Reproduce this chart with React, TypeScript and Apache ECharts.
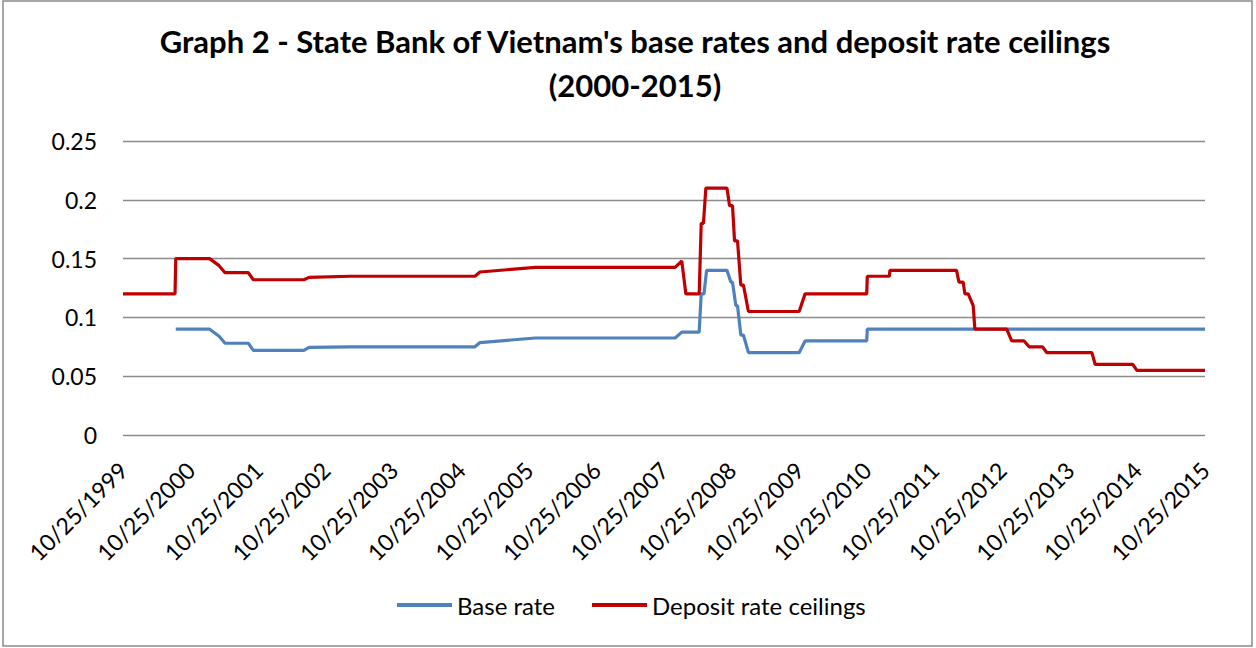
import React, { useEffect, useRef } from "react";
import * as echarts from "echarts";

const START = "1999-10-25";
const tickYears = [1999, 2000, 2001, 2002, 2003, 2004, 2005, 2006, 2007, 2008, 2009, 2010, 2011, 2012, 2013, 2014, 2015];
const yTicks = [0, 0.05, 0.1, 0.15, 0.2, 0.25];

const baseDates = [
  "2000-08-05", "2001-02-04", "2001-03-27", "2001-04-28", "2001-09-01", "2001-09-28",
  "2002-06-28", "2002-07-26", "2003-03-04", "2005-01-07", "2005-02-03", "2005-11-29",
  "2007-12-24", "2008-01-29", "2008-05-02", "2008-05-13", "2008-05-28", "2008-06-11",
  "2008-09-29", "2008-10-20", "2008-10-29", "2008-11-16", "2008-11-25", "2008-12-13",
  "2008-12-27", "2009-01-23", "2009-10-24", "2009-11-25", "2010-10-24", "2010-10-27",
  "2015-10-25",
];
const baseValues = [
  0.09, 0.09, 0.084, 0.078, 0.078, 0.072,
  0.072, 0.0745, 0.075, 0.075, 0.0786, 0.0825,
  0.0825, 0.0875, 0.0875, 0.12, 0.12, 0.14,
  0.14, 0.13, 0.13, 0.11, 0.11, 0.085,
  0.085, 0.07, 0.07, 0.08, 0.08, 0.09,
  0.09,
];

const depositDates = [
  "1999-10-25", "2000-08-01", "2000-08-05", "2001-02-04", "2001-03-27", "2001-04-28",
  "2001-09-01", "2001-09-28", "2002-06-28", "2002-07-26", "2003-03-04", "2005-01-07",
  "2005-02-03", "2005-11-29", "2007-12-24", "2008-01-29", "2008-02-20", "2008-05-02",
  "2008-05-13", "2008-05-25", "2008-06-07", "2008-09-29", "2008-10-13", "2008-10-29",
  "2008-11-09", "2008-11-25", "2008-12-13", "2008-12-27", "2009-01-23", "2009-10-24",
  "2009-11-25", "2010-10-24", "2010-10-27", "2011-02-23", "2011-02-26", "2012-02-21",
  "2012-03-05", "2012-03-28", "2012-04-06", "2012-04-24", "2012-05-21", "2012-05-30",
  "2012-11-18", "2012-12-15", "2013-02-20", "2013-03-19", "2013-05-30", "2013-06-23",
  "2014-02-21", "2014-03-11", "2014-09-30", "2014-10-22", "2015-10-25",
];
const depositValues = [
  0.12, 0.12, 0.15, 0.15, 0.144, 0.138,
  0.138, 0.132, 0.132, 0.134, 0.135, 0.135,
  0.1386, 0.1425, 0.1425, 0.148, 0.12, 0.12,
  0.18, 0.18, 0.21, 0.21, 0.195, 0.195,
  0.165, 0.165, 0.1275, 0.1275, 0.105, 0.105,
  0.12, 0.12, 0.135, 0.135, 0.14, 0.14,
  0.13, 0.13, 0.12, 0.12, 0.11, 0.09,
  0.09, 0.08, 0.08, 0.075, 0.075, 0.07,
  0.07, 0.06, 0.06, 0.055, 0.055,
];

const toMs = (s: string) => {
  const [y, m, d] = s.split("-").map(Number);
  return Date.UTC(y, m - 1, d);
};
const yearsSinceStart = (s: string) => (toMs(s) - toMs(START)) / (365.25 * 86400000);
const pairs = (dates: string[], vals: number[]) => dates.map((d, i) => [yearsSinceStart(d), vals[i]]);

const FONT = "Lato, 'Open Sans', sans-serif";

export default function App() {
  const ref = useRef<HTMLDivElement>(null);
  useEffect(() => {
    document.body.style.margin = "0";
    const chart = echarts.init(ref.current!, undefined, { renderer: "svg" });
    chart.setOption({
      animation: false,
      backgroundColor: "#ffffff",
      textStyle: { fontFamily: FONT },
      title: {
        text: "Graph 2 - State Bank of Vietnam's base rates and deposit rate ceilings\n(2000-2015)",
        left: 630,
        textAlign: "center",
        top: 14,
        textStyle: { fontFamily: FONT, fontSize: 31, fontWeight: "bold", color: "#000", lineHeight: 44 },
      },
      graphic: [
        {
          type: "rect",
          shape: { x: 3, y: 1, width: 1249, height: 645 },
          style: { fill: "none", stroke: "#8a8a8a", lineWidth: 1.5 },
          silent: true,
        },
      ],
      legend: {
        bottom: 26,
        left: 392,
        itemGap: 37,
        itemWidth: 55,
        itemHeight: 4,
        icon: "rect",
        textStyle: { fontFamily: FONT, fontSize: 24, color: "#000" },
        data: ["Base rate", "Deposit rate ceilings"],
      },
      grid: { left: 123, right: 51, top: 141, bottom: 213, containLabel: false },
      xAxis: {
        type: "value",
        min: 0,
        max: tickYears.length - 1,
        interval: 1,
        axisLine: { show: false },
        axisTick: { show: false },
        splitLine: { show: false },
        axisLabel: {
          rotate: 45,
          margin: 31,
          fontFamily: FONT,
          fontSize: 23,
          color: "#000",
          formatter: (v: number) => "10/25/" + tickYears[Math.round(v)],
        },
      },
      yAxis: {
        type: "value",
        min: yTicks[0],
        max: yTicks[yTicks.length - 1],
        interval: 0.05,
        axisLine: { show: false },
        axisTick: { show: false },
        splitLine: { lineStyle: { color: "#8c8c8c", width: 1.3 } },
        axisLabel: {
          margin: 26,
          fontFamily: FONT,
          fontSize: 23,
          color: "#000",
          formatter: (v: number) => String(Number(v.toFixed(2))),
        },
      },
      series: [
        {
          name: "Base rate",
          type: "line",
          data: pairs(baseDates, baseValues),
          showSymbol: false,
          symbol: "none",
          lineStyle: { color: "#4f81bd", width: 3.2 },
          itemStyle: { color: "#4f81bd" },
        },
        {
          name: "Deposit rate ceilings",
          type: "line",
          data: pairs(depositDates, depositValues),
          showSymbol: false,
          symbol: "none",
          lineStyle: { color: "#c00000", width: 3.2 },
          itemStyle: { color: "#c00000" },
        },
      ],
    });
    return () => chart.dispose();
  }, []);
  return <div ref={ref} style={{ width: 1256, height: 648 }} />;
}
